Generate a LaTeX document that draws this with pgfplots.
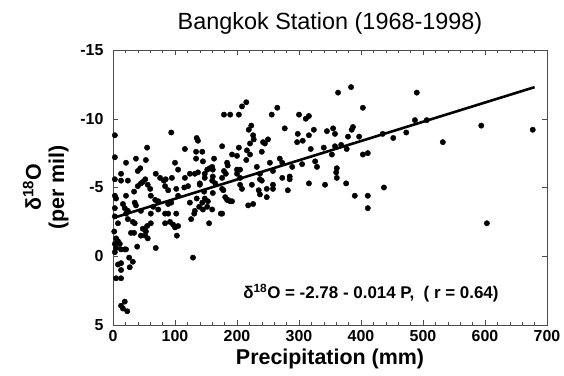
\documentclass[border=0pt]{standalone}
\usepackage{pgfplots}
\pgfplotsset{compat=1.18}
\usepackage{fontspec}
\setmainfont{Liberation Sans}
\begin{document}
\begin{tikzpicture}[x=1bp,y=1bp]
\path[use as bounding box] (-113,-50) rectangle (451,325);
\begin{axis}[
  at={(0,0)}, anchor=south west,
  scale only axis, width=434bp, height=275bp,
  xmin=0, xmax=700, ymin=-15, ymax=5,
  y dir=reverse,
  xtick={0,100,...,700}, ytick={-15,-10,-5,0,5},
  xticklabels={0,100,200,300,400,500,600,700},
  yticklabels={-15,-10,-5,0,5},
  minor x tick num=4,
  tick align=inside,
  major tick length=5bp, minor tick length=3bp,
  axis line style={line width=0.5bp, black!70},
  every tick/.style={black!70, line width=0.5bp},
  ticklabel style={font=\bfseries\fontsize{16}{18}\selectfont},
  yticklabel style={xshift=-6bp},
  xticklabel style={yshift=-2bp},
  title={Bangkok Station (1968-1998)},
  title style={font=\fontsize{23.5}{26}\selectfont, at={(axis description cs:0.5,1.075)}, anchor=center},
  xlabel={Precipitation (mm)},
  xlabel style={font=\bfseries\fontsize{21.5}{24}\selectfont, at={(axis description cs:0.5,-0.122)}, anchor=center},
  ylabel={δ\textsuperscript{18}O\\(per mil)},
  ylabel style={font=\bfseries\fontsize{21.5}{23.5}\selectfont, align=center, at={(axis description cs:-0.155,0.5)}, anchor=center, rotate=0},
  clip=false,
]
\addplot[only marks, mark=*, mark size=2.7bp, black] table {
x y
3 -8.8
94 -9.0
135 -8.6
137 -8.4
55 -7.9
116 -7.8
134 -7.6
3 -7.2
37 -7.1
53 -7.0
21 -6.8
100 -6.8
105 -6.3
134 -7.1
44 -6.4
40 -6.2
13 -6.0
69 -6.0
116 -5.7
124 -6.0
137 -6.1
3 -5.6
13 -5.5
24 -5.5
52 -5.6
76 -5.7
82 -5.5
85 -5.6
95 -5.7
132 -6.0
40 -5.1
45 -5.3
48 -5.4
34 -4.7
56 -5.2
60 -4.9
84 -5.1
89 -4.8
102 -4.9
115 -5.0
121 -5.1
140 -5.2
3 -4.4
5 -4.2
21 -4.4
3 -3.5
16 -3.8
19 -3.5
35 -3.9
37 -3.7
45 -3.3
61 -4.4
68 -4.1
73 -4.0
65 -3.6
73 -3.4
89 -3.8
94 -3.9
105 -4.4
124 -3.9
135 -4.2
139 -3.6
24 -3.3
2 -1.8
5 -1.3
8 -1.1
11 -0.9
3 -0.9
5 -0.6
3 -0.3
13 -0.5
19 -0.5
21 -0.5
39 -0.7
69 -0.6
26 0.1
32 0.4
27 0.8
8 0.6
13 0.5
13 1.0
5 1.6
13 1.6
129 0.1
13 3.6
19 3.3
16 3.8
23 4.0
32 -2.5
35 -2.4
29 -1.7
34 -1.7
45 -1.5
52 -1.5
56 -1.3
48 -2.0
53 -1.8
55 -2.2
61 -2.4
84 -2.4
92 -2.5
97 -2.3
100 -2.1
103 -1.5
105 -2.2
126 -2.7
131 -3.1
132 -3.3
61 -3.1
84 -3.1
89 -3.1
102 -3.1
24 -2.7
21 -3.1
3 -2.9
8 -2.4
208 -10.9
215 -11.2
179 -10.3
189 -10.3
203 -10.3
256 -10.3
265 -10.8
300 -10.3
316 -10.2
223 -9.5
219 -9.2
277 -9.3
298 -8.9
306 -8.4
297 -8.3
226 -8.8
227 -8.5
221 -8.2
250 -8.5
242 -8.3
245 -8.2
176 -8.0
203 -7.9
216 -7.7
240 -7.6
144 -7.6
192 -7.4
200 -7.3
221 -7.4
163 -7.1
160 -6.5
156 -6.4
161 -6.3
145 -6.9
152 -6.3
148 -6.0
184 -6.8
185 -6.6
179 -6.2
182 -6.0
200 -6.3
205 -6.3
215 -7.0
232 -6.5
253 -6.8
269 -7.1
273 -6.8
289 -6.5
305 -6.7
237 -6.0
258 -6.2
273 -5.7
285 -5.8
285 -5.6
148 -5.7
161 -5.8
176 -5.7
205 -5.7
200 -6.0
237 -5.6
240 -5.5
140 -5.3
160 -5.5
165 -5.3
176 -4.9
178 -4.8
205 -5.2
208 -4.9
224 -5.2
235 -4.8
248 -4.9
258 -4.9
282 -4.8
316 -5.3
147 -4.7
148 -4.2
153 -4.0
152 -3.6
161 -4.6
181 -4.3
184 -4.1
189 -4.0
237 -4.5
248 -4.3
226 -3.8
144 -3.9
160 -3.4
145 -3.4
176 -3.1
363 -11.9
384 -12.3
403 -10.8
311 -10.0
324 -9.2
316 -8.8
345 -9.1
355 -9.3
358 -8.9
385 -9.2
387 -9.4
379 -8.7
397 -8.7
435 -8.9
452 -8.6
473 -9.0
319 -7.8
340 -7.9
358 -8.0
368 -8.1
377 -7.8
353 -7.4
403 -7.4
411 -7.5
326 -6.9
329 -6.5
361 -6.4
360 -6.1
361 -5.7
342 -5.2
376 -5.3
390 -4.4
411 -4.4
437 -5.0
411 -3.5
490 -11.9
487 -9.9
506 -9.9
532 -8.3
594 -9.5
677 -9.2
603 -2.4
155 -2.4
174 -3.1
185 -4.1
192 -4.0
218 -3.7
258 -5.2
};
\addplot[black, line width=2.6bp] coordinates {(0,-2.78) (680,-12.30)};
\node[font=\bfseries\fontsize{17}{19}\selectfont, anchor=center] at (axis cs:416,2.7) {δ\textsuperscript{18}O = -2.78 - 0.014 P,\ \ ( r = 0.64)};
\end{axis}
\end{tikzpicture}
\end{document}
